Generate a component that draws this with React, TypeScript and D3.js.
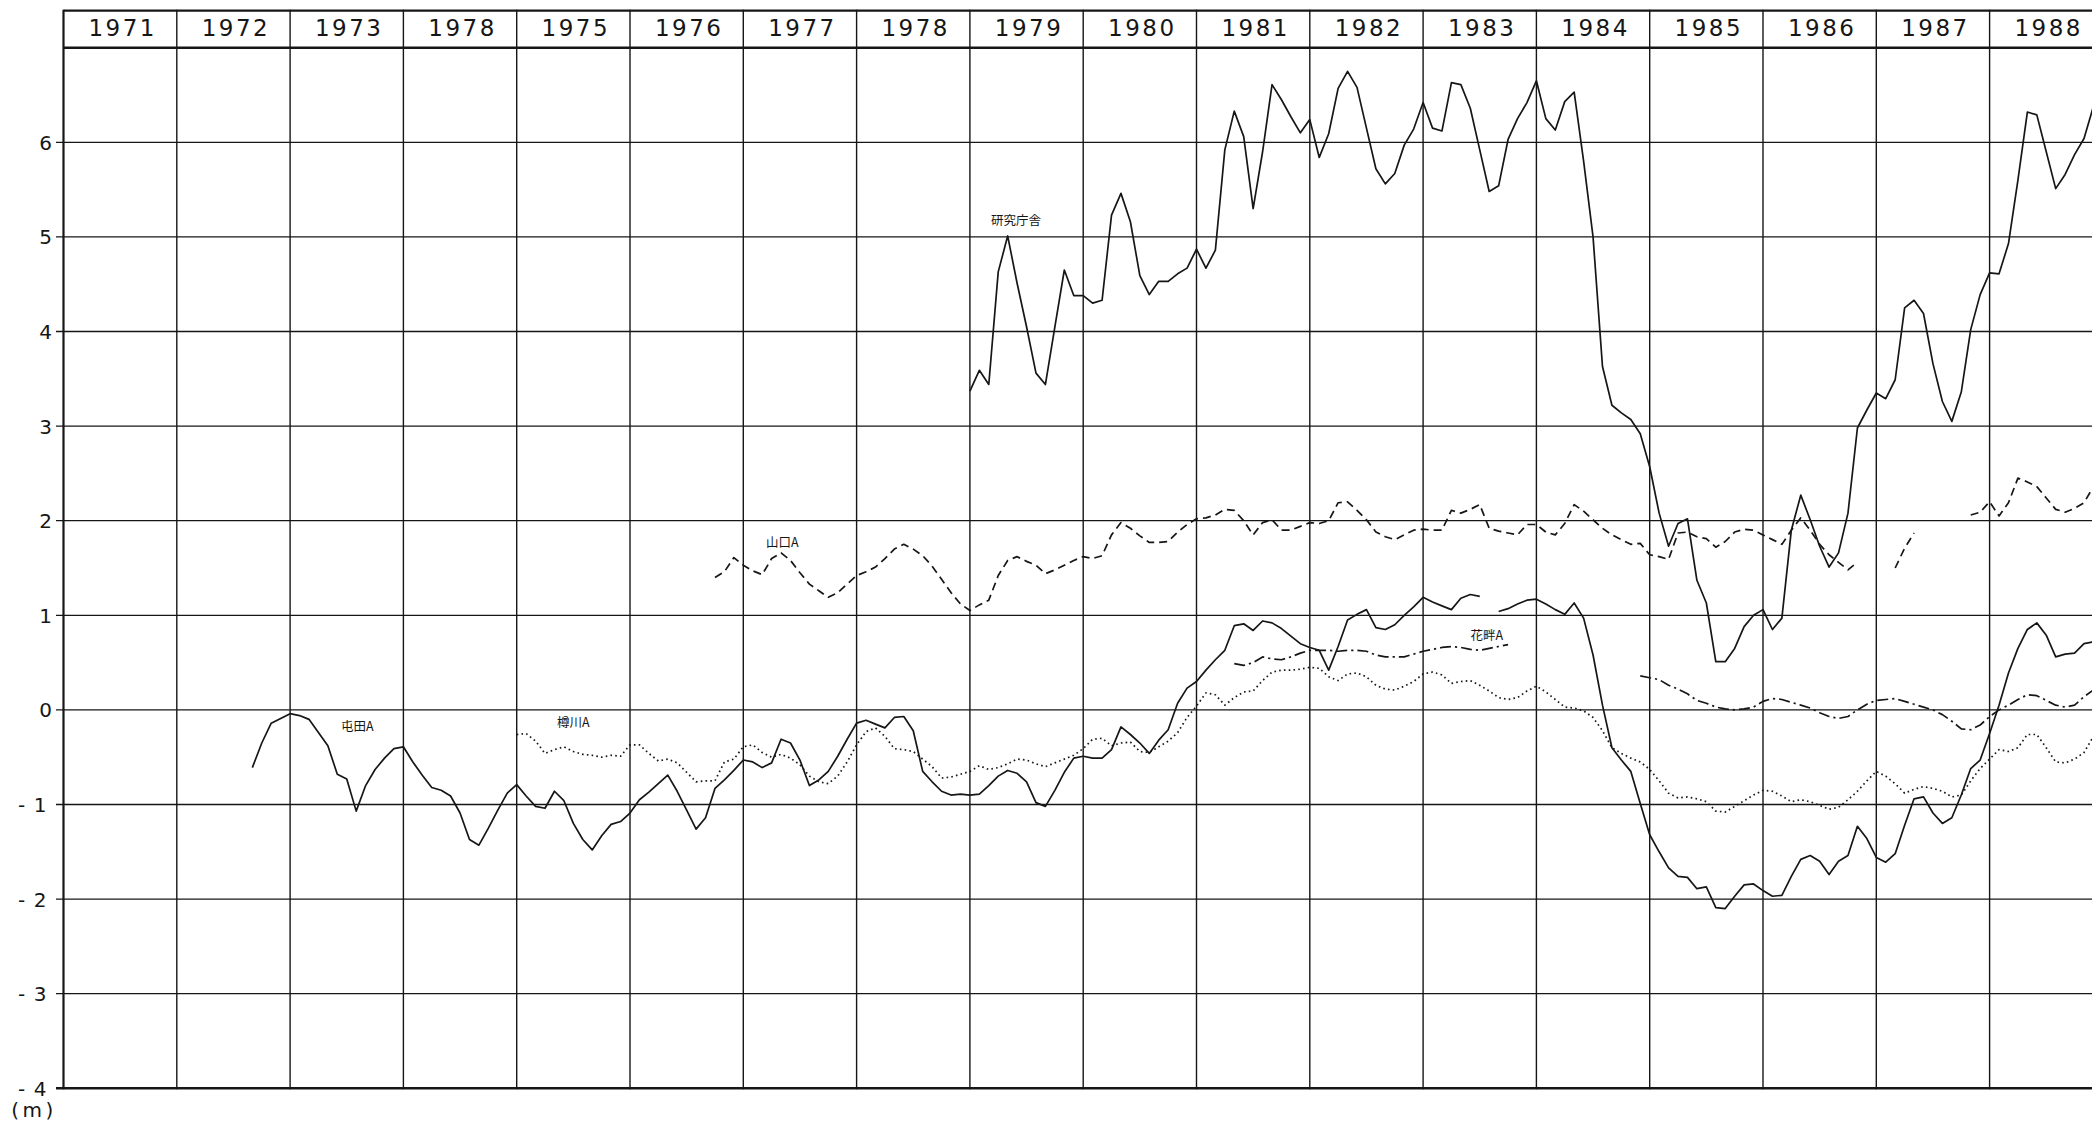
import React, { useEffect } from "react";
import * as d3 from "d3";

const W = 2092;
const H = 1124;

// Header labels (as printed in the original, including its "1978" in the 4th column)
const yearLabels = ["1971", "1972", "1973", "1978", "1975", "1976", "1977", "1978", "1979", "1980", "1981", "1982", "1983", "1984", "1985", "1986", "1987", "1988"];
const firstYear = 1971;
const yTickValues = [6, 5, 4, 3, 2, 1, 0, -1, -2, -3, -4];
const gridValues = [-3, -2, -1, 0, 1, 2, 3, 4, 5, 6];
const yMin = -4;
const yMax = 7;
const unitLabel = "(m)";

// Monthly groundwater levels (m); start = [year, month]
const tondenStart = [1972, 9];
const tondenA = [
  -0.61, -0.35, -0.14, -0.09,
  -0.04, -0.06, -0.10, -0.24, -0.38, -0.68, -0.73, -1.07, -0.80, -0.63, -0.51, -0.41,
  -0.39, -0.55, -0.69, -0.82, -0.85, -0.91, -1.09, -1.37, -1.43, -1.25, -1.06, -0.88,
  -0.79, -0.91, -1.02, -1.04, -0.86, -0.96, -1.20, -1.37, -1.48, -1.33, -1.21, -1.18,
  -1.09, -0.95, -0.87, -0.78, -0.69, -0.86, -1.06, -1.26, -1.14, -0.83, -0.74, -0.64,
  -0.53, -0.55, -0.61, -0.56, -0.31, -0.35, -0.53, -0.80, -0.74, -0.65, -0.49, -0.31,
  -0.14, -0.11, -0.15, -0.19, -0.08, -0.07, -0.22, -0.65, -0.76, -0.86, -0.90, -0.89,
  -0.90, -0.89, -0.80, -0.70, -0.64, -0.67, -0.76, -0.98, -1.02, -0.85, -0.66, -0.51,
  -0.49, -0.51, -0.51, -0.42, -0.18, -0.26, -0.35, -0.46, -0.32, -0.21, 0.07, 0.23,
  0.30, 0.42, 0.53, 0.63, 0.89, 0.91, 0.84, 0.94, 0.92, 0.86, 0.78, 0.70,
  0.66, 0.63, 0.42, 0.67, 0.95, 1.01, 1.06, 0.87, 0.85, 0.90, 1.00, 1.09,
  1.19, 1.14, 1.10, 1.06, 1.18, 1.22, 1.20, null, 1.04, 1.07, 1.12, 1.16,
  1.17, 1.12, 1.06, 1.01, 1.13, 0.97, 0.58, 0.05, -0.40, -0.53, -0.65, -0.99,
  -1.32, -1.50, -1.67, -1.76, -1.77, -1.89, -1.87, -2.09, -2.10, -1.97, -1.85, -1.84,
  -1.91, -1.97, -1.96, -1.76, -1.58, -1.54, -1.60, -1.74, -1.60, -1.54, -1.23, -1.36,
  -1.56, -1.61, -1.52, -1.22, -0.94, -0.92, -1.09, -1.20, -1.14, -0.90, -0.62, -0.53,
  -0.25, 0.05, 0.39, 0.65, 0.85, 0.92, 0.79, 0.56, 0.59, 0.60, 0.70, 0.72,
];

const tarukawaStart = [1975, 1];
const tarukawaA = [
  -0.26, -0.25, -0.33, -0.46, -0.42, -0.39, -0.44, -0.47, -0.48, -0.50, -0.48, -0.49,
  -0.37, -0.37, -0.46, -0.54, -0.52, -0.56, -0.66, -0.76, -0.75, -0.75, -0.55, -0.52,
  -0.39, -0.37, -0.45, -0.50, -0.47, -0.51, -0.58, -0.70, -0.76, -0.78, -0.70, -0.55,
  -0.37, -0.23, -0.19, -0.28, -0.41, -0.42, -0.44, -0.52, -0.60, -0.72, -0.71, -0.68,
  -0.65, -0.59, -0.63, -0.61, -0.57, -0.52, -0.53, -0.57, -0.60, -0.56, -0.52, -0.48,
  -0.41, -0.31, -0.30, -0.38, -0.35, -0.34, -0.44, -0.45, -0.39, -0.33, -0.24, -0.08,
  0.04, 0.18, 0.16, 0.05, 0.13, 0.19, 0.20, 0.31, 0.40, 0.42, 0.42, 0.43,
  0.45, 0.44, 0.35, 0.31, 0.38, 0.39, 0.35, 0.26, 0.22, 0.21, 0.25, 0.30,
  0.38, 0.40, 0.37, 0.28, 0.30, 0.31, 0.26, 0.20, 0.13, 0.11, 0.13, 0.20,
  0.25, 0.19, 0.11, 0.03, 0.02, -0.01, -0.08, -0.22, -0.40, -0.46, -0.51, -0.55,
  -0.63, -0.75, -0.88, -0.93, -0.92, -0.94, -0.97, -1.07, -1.08, -1.02, -0.96, -0.90,
  -0.85, -0.86, -0.91, -0.97, -0.95, -0.97, -1.01, -1.05, -1.03, -0.95, -0.86, -0.75,
  -0.65, -0.70, -0.78, -0.88, -0.84, -0.81, -0.83, -0.86, -0.92, -0.90, -0.75, -0.62,
  -0.52, -0.42, -0.44, -0.40, -0.26, -0.26, -0.40, -0.55, -0.56, -0.52, -0.45, -0.28,
];

const yamaguchiStart = [1976, 10];
const yamaguchiA = [
  1.40, 1.46, 1.61,
  1.53, 1.47, 1.43, 1.60, 1.66, 1.58, 1.45, 1.33, 1.26, 1.19, 1.24, 1.33,
  1.42, 1.46, 1.51, 1.60, 1.70, 1.75, 1.70, 1.63, 1.52, 1.38, 1.24, 1.12,
  1.05, 1.11, 1.16, 1.42, 1.58, 1.62, 1.57, 1.53, 1.44, 1.48, 1.53, 1.58,
  1.62, 1.60, 1.63, 1.85, 1.98, 1.92, 1.84, 1.77, 1.77, 1.78, 1.88, 1.96,
  2.02, 2.03, 2.06, 2.12, 2.11, 2.00, 1.85, 1.98, 2.01, 1.90, 1.90, 1.94,
  1.98, 1.97, 2.00, 2.19, 2.20, 2.11, 2.01, 1.88, 1.83, 1.80, 1.85, 1.90,
  1.91, 1.90, 1.90, 2.11, 2.08, 2.12, 2.17, 1.92, 1.89, 1.87, 1.85, 1.96,
  1.96, 1.88, 1.85, 1.97, 2.17, 2.10, 2.01, 1.92, 1.85, 1.80, 1.75, 1.76,
  1.64, 1.62, 1.59, 1.87, 1.88, 1.83, 1.81, 1.72, 1.78, 1.88, 1.91, 1.90,
  1.85, 1.80, 1.75, 1.90, 2.03, 1.90, 1.75, 1.64, 1.56, 1.48, 1.56, null,
  null, null, 1.50, 1.71, 1.87, null, null, null, null, null, 2.06, 2.09,
  2.20, 2.05, 2.19, 2.45, 2.41, 2.36, 2.24, 2.12, 2.09, 2.13, 2.19, 2.36,
];

const kenkyuStart = [1979, 1];
const kenkyuChosha = [
  3.37, 3.59, 3.44, 4.63, 5.01, 4.51, 4.05, 3.56, 3.44, 4.05, 4.65, 4.38,
  4.38, 4.30, 4.33, 5.23, 5.46, 5.16, 4.59, 4.39, 4.53, 4.53, 4.61, 4.67,
  4.87, 4.67, 4.86, 5.92, 6.33, 6.06, 5.30, 5.90, 6.61, 6.45, 6.27, 6.10,
  6.24, 5.84, 6.09, 6.57, 6.75, 6.58, 6.15, 5.72, 5.56, 5.67, 5.97, 6.14,
  6.42, 6.15, 6.12, 6.63, 6.61, 6.36, 5.92, 5.48, 5.54, 6.03, 6.25, 6.42,
  6.65, 6.25, 6.13, 6.43, 6.53, 5.80, 5.00, 3.63, 3.22, 3.14, 3.07, 2.92,
  2.57, 2.08, 1.73, 1.97, 2.02, 1.37, 1.13, 0.51, 0.51, 0.65, 0.88, 1.00,
  1.06, 0.85, 0.97, 1.90, 2.27, 2.01, 1.73, 1.51, 1.66, 2.08, 2.98, 3.17,
  3.35, 3.29, 3.49, 4.25, 4.33, 4.19, 3.66, 3.26, 3.05, 3.36, 4.02, 4.39,
  4.62, 4.61, 4.93, 5.60, 6.32, 6.29, 5.90, 5.51, 5.66, 5.87, 6.04, 6.38,
];

const hanaguroStart = [1981, 5];
const hanaguroA = [
  0.49, 0.47, 0.50, 0.56, 0.54, 0.53, 0.56, 0.60,
  0.63, 0.63, 0.63, 0.62, 0.63, 0.63, 0.62, 0.58, 0.56, 0.56, 0.56, 0.59,
  0.62, 0.64, 0.66, 0.67, 0.66, 0.64, 0.63, 0.65, 0.67, 0.69, null, null,
  null, null, null, null, null, null, null, null, null, null, null, 0.36,
  0.34, 0.32, 0.26, 0.22, 0.17, 0.10, 0.07, 0.03, 0.01, 0.00, 0.01, 0.03,
  0.09, 0.12, 0.11, 0.08, 0.05, 0.02, -0.03, -0.07, -0.09, -0.07, 0.00, 0.06,
  0.10, 0.11, 0.12, 0.09, 0.06, 0.03, 0.00, -0.05, -0.12, -0.20, -0.21, -0.16,
  -0.07, 0.00, 0.05, 0.11, 0.16, 0.15, 0.10, 0.05, 0.03, 0.05, 0.14, 0.21,
];

// Station labels, placed in data coordinates (decimal year, level)
const labelNames = ["屯田A", "樽川A", "山口A", "研究庁舎", "花畔A"];
const labelYears = [1973.45, 1975.356, 1977.2, 1979.186, 1983.418];
const labelLevels = [-0.227, -0.185, 1.718, 5.127, 0.735];

type Pt = [number, number | null];

function toPoints(start: number[], values: (number | null)[]): Pt[] {
  return values.map((v, i) => [start[0] + (start[1] - 1 + i) / 12, v]);
}

export default function App() {
  useEffect(() => {
    document.body.style.margin = "0";
    document.body.style.background = "#ffffff";
  }, []);

  const colW = 113.3;
  const left = 63.5;
  const x = d3.scaleLinear().domain([firstYear, firstYear + 18]).range([left, left + 18 * colW]);
  const y = d3.scaleLinear().domain([yMin, yMax]).range([1088.3, 47.7]);
  const headerTop = 10.7;

  const line = d3
    .line<Pt>()
    .defined((d) => d[1] !== null)
    .x((d) => x(d[0]))
    .y((d) => y(d[1] as number));

  const series = [
    { key: "kenkyu", pts: toPoints(kenkyuStart, kenkyuChosha), dash: undefined as string | undefined },
    { key: "tonden", pts: toPoints(tondenStart, tondenA), dash: undefined },
    { key: "tarukawa", pts: toPoints(tarukawaStart, tarukawaA), dash: "1.6 3.2" },
    { key: "yamaguchi", pts: toPoints(yamaguchiStart, yamaguchiA), dash: "8 5" },
    { key: "hanaguro", pts: toPoints(hanaguroStart, hanaguroA), dash: "11 4 2.2 4" },
  ];

  const ink = "#161616";
  const yearIdx = d3.range(0, 19);
  const font = "'DejaVu Sans', sans-serif";

  return (
    <svg width={W} height={H} viewBox={`0 0 ${W} ${H}`} style={{ position: "absolute", left: 0, top: 0, background: "#fff" }}>
      <rect x={0} y={0} width={W} height={H} fill="#fff" />
      {/* horizontal grid */}
      {gridValues.map((v) => (
        <line key={"h" + v} x1={56} x2={W} y1={y(v)} y2={y(v)} stroke={ink} strokeWidth={1.3} />
      ))}
      {/* header bottom / plot top */}
      <line x1={x(firstYear)} x2={W} y1={y(yMax)} y2={y(yMax)} stroke={ink} strokeWidth={2.4} />
      {/* header top */}
      <line x1={x(firstYear)} x2={W} y1={headerTop} y2={headerTop} stroke={ink} strokeWidth={2.2} />
      {/* bottom border */}
      <line x1={56} x2={W} y1={y(yMin)} y2={y(yMin)} stroke={ink} strokeWidth={2.4} />
      {/* vertical year lines */}
      {yearIdx.map((k) => (
        <line
          key={"v" + k}
          x1={x(firstYear + k)}
          x2={x(firstYear + k)}
          y1={headerTop - 1}
          y2={y(yMin) + 1}
          stroke={ink}
          strokeWidth={k === 0 ? 2.2 : 1.4}
        />
      ))}
      {/* year header labels */}
      {yearLabels.map((lab, k) => (
        <text
          key={"yl" + k}
          x={x(firstYear + k + 0.5) + 2.5}
          y={35.5}
          textAnchor="middle"
          fontFamily={font}
          fontSize={23}
          letterSpacing={2.5}
          fill={ink}
        >
          {lab}
        </text>
      ))}
      {/* y tick labels */}
      {yTickValues.map((v) => (
        <g key={"yt" + v}>
          {v < 0 && (
            <text x={21.5} y={y(v) + 7.5} textAnchor="middle" fontFamily={font} fontSize={20} fill={ink}>
              -
            </text>
          )}
          <text x={v < 0 ? 46.5 : 52} y={y(v) + 7.5} textAnchor="end" fontFamily={font} fontSize={20} fill={ink}>
            {Math.abs(v)}
          </text>
        </g>
      ))}
      <text x={34} y={1117} textAnchor="middle" fontFamily={font} fontSize={20} letterSpacing={3.5} fill={ink}>
        {unitLabel}
      </text>
      {/* data lines */}
      {series.map((s) => (
        <path
          key={s.key}
          d={line(s.pts) || ""}
          fill="none"
          stroke={ink}
          strokeWidth={1.7}
          strokeDasharray={s.dash}
          strokeLinejoin="round"
        />
      ))}
      {/* station labels */}
      {labelNames.map((n, i) => (
        <text
          key={"lab" + i}
          x={x(labelYears[i])}
          y={y(labelLevels[i])}
          fontFamily="'Noto Sans CJK JP', sans-serif"
          fontSize={12.5}
          fill={ink}
        >
          {n}
        </text>
      ))}
    </svg>
  );
}
